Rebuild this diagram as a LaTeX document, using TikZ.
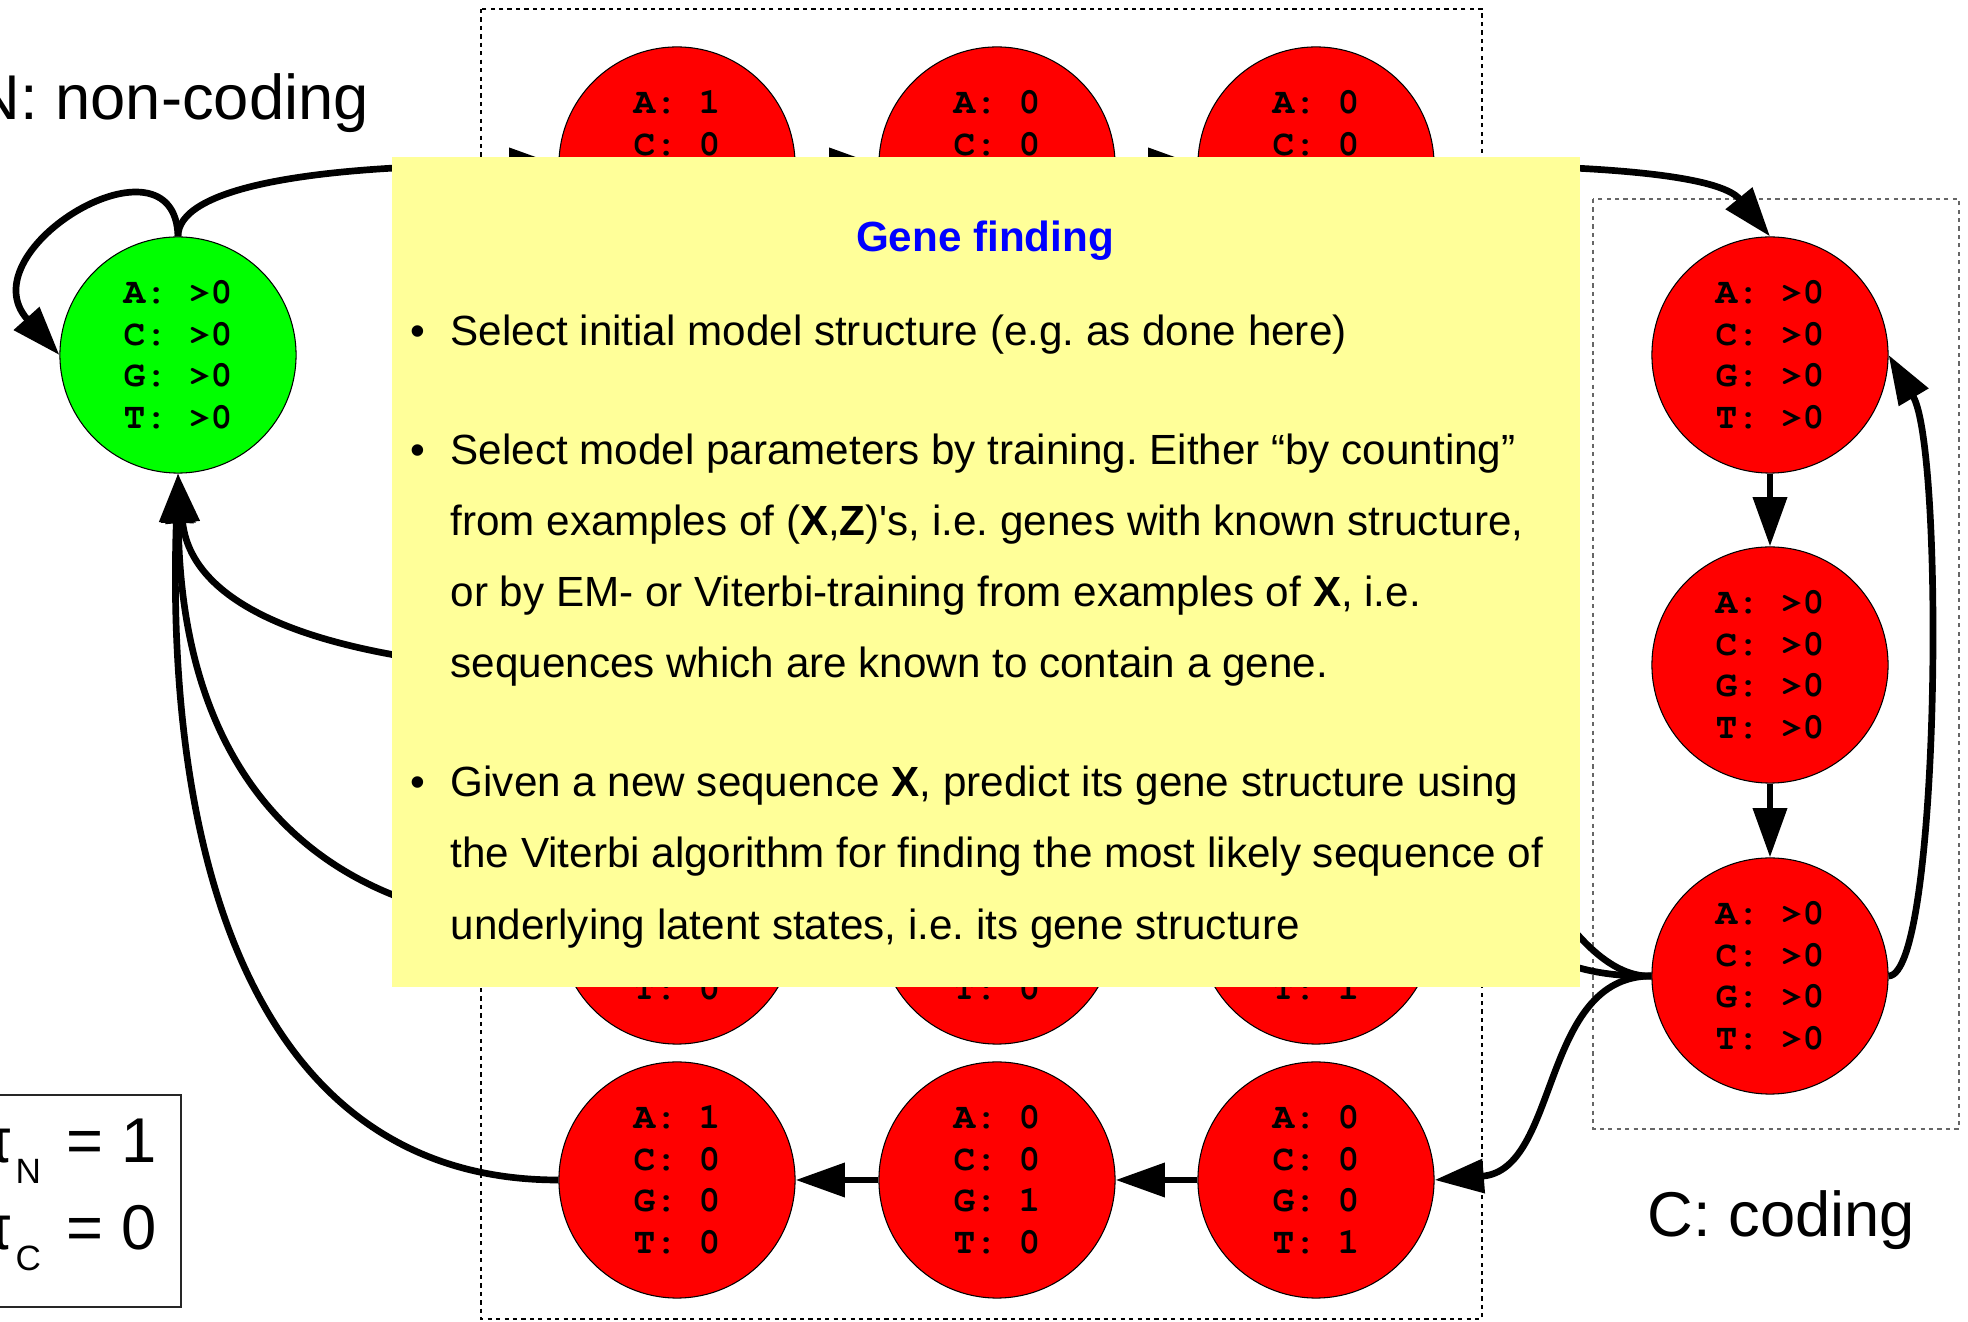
\documentclass[tikz,border=0pt]{standalone}
\usepackage{fontspec}
\setmainfont{Liberation Sans}
\usetikzlibrary{arrows.meta}
\frenchspacing
\definecolor{notefill}{HTML}{FFFF99}
\newcommand\codonfont{\fontencoding{T1}\fontfamily{pcr}\bfseries\fontsize{10.3}{11.9}\selectfont}
\tikzset{
	state/.style={circle,draw=black,line width=0.3pt,minimum size=2.36cm,inner sep=0pt,align=center,font=\codonfont},
	trans/.style={line width=1.9pt,-{Triangle[length=14pt,width=9.4pt]}},
	groupbox/.style={line width=0.35pt,dash pattern=on 1.2pt off 1.2pt},
	bodyline/.style={anchor=base west,inner sep=0pt,font=\fontsize{12}{14}\selectfont},
	biglabel/.style={anchor=base west,inner sep=0pt,font=\fontsize{18}{21.6}\selectfont}
}
\begin{document}
\begin{tikzpicture}[x=0.01cm,y=-0.01cm]
					\useasboundingbox (0,0) rectangle (1968,1322);
					\draw[groupbox] (481,9) rectangle (1482,1319);
					\draw[groupbox,draw=black!60] (1593,199) rectangle (1959,1129);
					\node[state,fill=green] (noncod) at (178,355) {A: >0\\C: >0\\G: >0\\T: >0};
					\node[state,fill=red] (start1) at (677,165) {A: 1\\C: 0\\G: 0\\T: 0};
					\node[state,fill=red] (start2) at (997,165) {A: 0\\C: 0\\G: 0\\T: 1};
					\node[state,fill=red] (start3) at (1316,165) {A: 0\\C: 0\\G: 1\\T: 0};
					\node[state,fill=red] (cod1) at (1770,355) {A: >0\\C: >0\\G: >0\\T: >0};
					\node[state,fill=red] (cod2) at (1770,665) {A: >0\\C: >0\\G: >0\\T: >0};
					\node[state,fill=red] (cod3) at (1770,976) {A: >0\\C: >0\\G: >0\\T: >0};
					\node[state,fill=red] (stopa1) at (677,672) {A: 1\\C: 0\\G: 0\\T: 0};
					\node[state,fill=red] (stopa2) at (997,672) {A: 1\\C: 0\\G: 0\\T: 0};
					\node[state,fill=red] (stopa3) at (1316,672) {A: 0\\C: 0\\G: 0\\T: 1};
					\node[state,fill=red] (stopb1) at (677,926) {A: 0\\C: 0\\G: 1\\T: 0};
					\node[state,fill=red] (stopb2) at (997,926) {A: 1\\C: 0\\G: 0\\T: 0};
					\node[state,fill=red] (stopb3) at (1316,926) {A: 0\\C: 0\\G: 0\\T: 1};
					\node[state,fill=red] (stopc1) at (677,1180) {A: 1\\C: 0\\G: 0\\T: 0};
					\node[state,fill=red] (stopc2) at (997,1180) {A: 0\\C: 0\\G: 1\\T: 0};
					\node[state,fill=red] (stopc3) at (1316,1180) {A: 0\\C: 0\\G: 0\\T: 1};
					\draw[trans] (noncod.north) .. controls (175,125) and (-35,250) .. (noncod.west);
					\draw[trans] (noncod.north) .. controls (178,190) and (300,165) .. (start1.west);
					\draw[trans] (start1) -- (start2);
					\draw[trans] (start2) -- (start3);
					\draw[trans] (start3.east) .. controls (1600,165) and (1720,175) .. (cod1.north);
					\draw[trans] (cod1) -- (cod2);
					\draw[trans] (cod2) -- (cod3);
					\draw[trans] (cod3.east) .. controls (1940,976) and (1945,450) .. (cod1.east);
					\draw[trans] (cod3.west) .. controls (1560,980) and (1480,760) .. (stopa3.east);
					\draw[trans] (cod3.west) .. controls (1540,978) and (1520,926) .. (stopb3.east);
					\draw[trans] (cod3.west) .. controls (1540,976) and (1560,1170) .. (stopc3.east);
					\draw[trans] (stopa3) -- (stopa2);
					\draw[trans] (stopa2) -- (stopa1);
					\draw[trans] (stopb3) -- (stopb2);
					\draw[trans] (stopb2) -- (stopb1);
					\draw[trans] (stopc3) -- (stopc2);
					\draw[trans] (stopc2) -- (stopc1);
					\draw[trans] (stopa1.west) .. controls (300,660) and (190,600) .. (noncod.south);
					\draw[trans] (stopb1.west) .. controls (300,920) and (180,760) .. (noncod.south);
					\draw[trans] (stopc1.west) .. controls (250,1180) and (165,850) .. (noncod.south);
					\fill[notefill] (392,157) rectangle (1580,987);
					\node[anchor=base,inner sep=0pt,text=blue,font=\bfseries\fontsize{12}{14}\selectfont] (title) at (985,252) {Gene finding};
					\node[bodyline,anchor=base] (dot1) at (418,346) {\textbullet};
					\node[bodyline,anchor=base] (dot2) at (418,465) {\textbullet};
					\node[bodyline,anchor=base] (dot3) at (418,797) {\textbullet};
					\node[bodyline] (line1) at (450,346) {Select initial model structure (e.g. as done here)};
					\node[bodyline] (line2) at (450,465) {Select model parameters by training. Either “by counting”};
					\node[bodyline] (line3) at (450,536) {from examples of (\textbf{X},\textbf{Z})\textquotesingle s, i.e. genes with known structure,};
					\node[bodyline] (line4) at (450,607) {or by EM- or Viterbi-training from examples of \textbf{X}, i.e.};
					\node[bodyline] (line5) at (450,678) {sequences which are known to contain a gene.};
					\node[bodyline] (line6) at (450,797) {Given a new sequence \textbf{X}, predict its gene structure using};
					\node[bodyline] (line7) at (450,868) {the Viterbi algorithm for finding the most likely sequence of};
					\node[bodyline] (line8) at (450,940) {underlying latent states, i.e. its gene structure};
					\node[biglabel] (nlabel) at (-26,120) {N: non-coding};
					\node[biglabel] (clabel) at (1647,1237) {C: coding};
					\draw[line width=0.4pt,draw=black!85] (-10,1095) rectangle (181,1307);
					\node[biglabel] (pin) at (15,1163) {\llap{π\kern0.7pt}\raisebox{-5.7pt}{\fontsize{10}{12}\selectfont N}\hspace{2.3pt} = 1};
					\node[biglabel] (pic) at (15,1250) {\llap{π\kern0.7pt}\raisebox{-5.7pt}{\fontsize{10}{12}\selectfont C}\hspace{2.3pt} = 0};
\end{tikzpicture}
\end{document}
